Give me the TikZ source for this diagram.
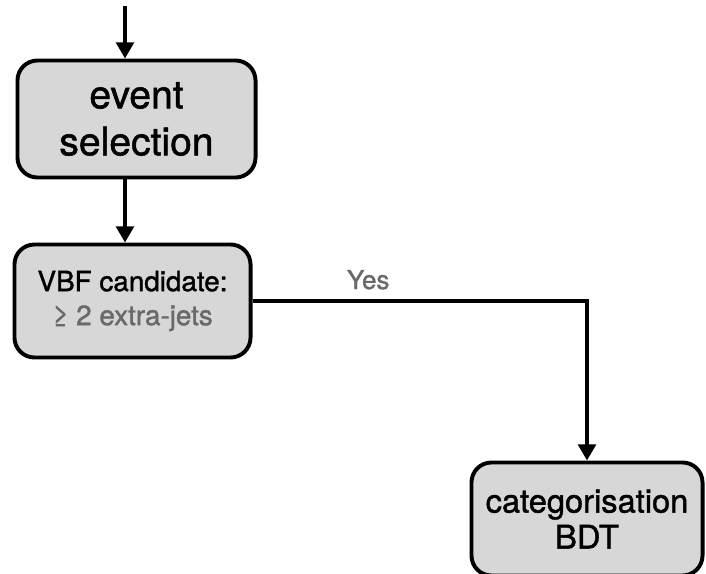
\documentclass[tikz,border=0pt]{standalone}
\usepackage{fontspec}
\setmainfont[FakeBold=1.3]{TeX Gyre Heros}
\usetikzlibrary{arrows.meta}
\definecolor{boxgrey}{RGB}{215,215,215}
\definecolor{notegrey}{RGB}{105,105,105}
\tikzset{
  flowbox/.style={draw, line width=2.8pt, rounded corners=5mm, fill=boxgrey,
    align=center, inner sep=0pt},
  flowline/.style={line width=2.8pt},
  flowarrow/.style={flowline, -{Triangle[width=12.5pt,length=11.5pt]}},
}

\begin{document}
\begin{tikzpicture}[x=0.025cm, y=-0.025cm]
\useasboundingbox (0,0) rectangle (706,574);

% boxes of the flow
\node[flowbox, minimum width=5.95cm, minimum height=2.925cm,
  font=\fontsize{27.8}{33.4}\selectfont] (sel) at (136.5,119) {event\\selection};
\node[flowbox, minimum width=5.9cm, minimum height=2.825cm,
  font=\fontsize{19.8}{24.2}\selectfont] (vbf) at (132.5,301)
  {VBF candidate:\\\textcolor{notegrey}{≥ 2 extra-jets}};
\node[flowbox, minimum width=5.775cm, minimum height=2.825cm,
  font=\fontsize{23.2}{25.6}\selectfont] (cat) at (587,519) {categorisation\\BDT};

% incoming line
\coordinate (in) at (125,6);

% connectors
\draw[flowarrow] (in) -- (in |- sel.north);
\draw[flowarrow] (sel.south -| in) -- (vbf.north -| in);
\draw[flowarrow] (vbf.east) -| (cat.north)
  node[pos=0.173, anchor=base, yshift=3mm, text=notegrey,
    font=\fontsize{18.5}{22}\selectfont] (yes) {Yes};
\end{tikzpicture}
\end{document}
